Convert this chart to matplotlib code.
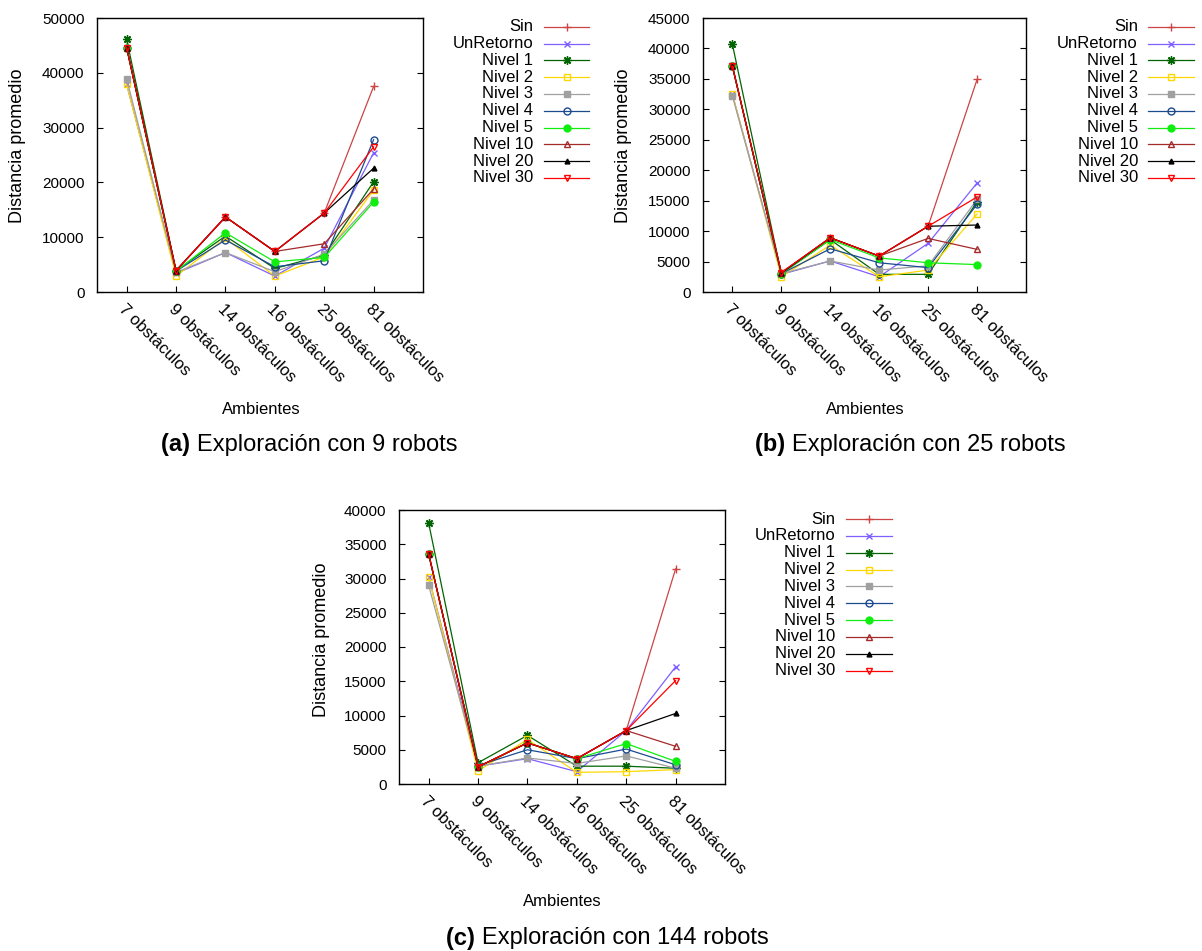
import matplotlib
matplotlib.use("Agg")
import matplotlib.pyplot as plt
from matplotlib.lines import Line2D
import numpy as np

plt.rcParams['font.family'] = ['Liberation Sans', 'DejaVu Sans']

W, H = 1202, 951

ambientes = ['7 obstáculos', '9 obstáculos', '14 obstáculos',
             '16 obstáculos', '25 obstáculos', '81 obstáculos']
series = ['Sin', 'UnRetorno', 'Nivel 1', 'Nivel 2', 'Nivel 3',
          'Nivel 4', 'Nivel 5', 'Nivel 10', 'Nivel 20', 'Nivel 30']

# 9 robots
sin_a = [44600, 3900, 13700, 7400, 14400, 37500]
unret_a = [37900, 3400, 7200, 2900, 8000, 25400]
n1_a = [46100, 3900, 10200, 4300, 6700, 20100]
n2_a = [37900, 2900, 9800, 2900, 6400, 18600]
n3_a = [38900, 3600, 7200, 3700, 6900, 16800]
n4_a = [44600, 3800, 9500, 4600, 5700, 27800]
n5_a = [44600, 3800, 10800, 5500, 6300, 16400]
n10_a = [44600, 3900, 13700, 7400, 8800, 18800]
n20_a = [44600, 3900, 13700, 7400, 14400, 22600]
n30_a = [44600, 3900, 13700, 7400, 14400, 26500]

# 25 robots
sin_b = [37100, 3200, 8900, 5900, 10800, 34900]
unret_b = [32500, 2900, 5100, 2500, 8000, 17900]
n1_b = [40700, 3000, 8600, 2900, 2900, 14800]
n2_b = [32500, 2500, 7700, 2500, 3600, 12800]
n3_b = [32200, 3000, 5100, 3600, 4300, 15200]
n4_b = [37100, 3000, 7100, 4800, 4000, 14400]
n5_b = [37100, 3000, 8600, 5600, 4800, 4500]
n10_b = [37100, 3100, 8900, 5900, 8800, 7000]
n20_b = [37100, 3100, 8900, 5900, 10800, 11000]
n30_b = [37100, 3200, 8900, 5900, 10800, 15600]

# 144 robots
sin_c = [33600, 2500, 6000, 3700, 7800, 31400]
unret_c = [30200, 2600, 3700, 1800, 7800, 17100]
n1_c = [38100, 3100, 7100, 2600, 2600, 2300]
n2_c = [30200, 1900, 6500, 1700, 1800, 2100]
n3_c = [29000, 2600, 3800, 3000, 4100, 2300]
n4_c = [33600, 2700, 5000, 3700, 5100, 2800]
n5_c = [33600, 2500, 6000, 3700, 5900, 3300]
n10_c = [33600, 2500, 6000, 3700, 7800, 5500]
n20_c = [33600, 2500, 6000, 3700, 7800, 10300]
n30_c = [33600, 2500, 6000, 3700, 7800, 15100]

data_a = [sin_a, unret_a, n1_a, n2_a, n3_a, n4_a, n5_a, n10_a, n20_a, n30_a]
data_b = [sin_b, unret_b, n1_b, n2_b, n3_b, n4_b, n5_b, n10_b, n20_b, n30_b]
data_c = [sin_c, unret_c, n1_c, n2_c, n3_c, n4_c, n5_c, n10_c, n20_c, n30_c]

colors = ['#cc4444', '#7f5fff', '#006400', '#ffd700', '#a0a0a0',
          '#1c4a8f', '#10ee10', '#a52a2a', '#000000', '#ff0000']
# (marker, filled, size)
markers = [('+', True, 6), ('x', True, 5), ((8, 2, 0), True, 6),
           ('s', False, 5), ('s', True, 5), ('o', False, 5),
           ('o', True, 5), ('^', False, 5), ('^', True, 3.5),
           ('v', False, 5)]


def fx(x):
    return x / W


def fy(y):
    return 1 - y / H


def style(i):
    m, filled, ms = markers[i]
    kw = dict(color=colors[i], lw=0.9, marker=m, markersize=ms,
              markeredgewidth=1.0, markeredgecolor=colors[i])
    kw['markerfacecolor'] = colors[i] if filled else 'none'
    return kw


def panel(fig, box, data, ymax, ystep, ylab_x, ylab_y, xlab_xy,
          cap_xy, cap_letter, cap_text, leg):
    left, top, right, bottom = box
    ax = fig.add_axes([fx(left), fy(bottom), fx(right - left),
                       (bottom - top) / H])
    x = np.arange(len(ambientes))
    for i, vals in enumerate(data):
        ax.plot(x, vals, **style(i))
    ax.set_xlim(-0.6, 6.0)
    ax.set_ylim(0, ymax)
    ax.set_yticks(np.arange(0, ymax + 1, ystep))
    ax.set_xticks(x)
    ax.set_xticklabels(ambientes, rotation=-45, ha='left', va='top',
                       rotation_mode='anchor', fontsize=12)
    ax.tick_params(axis='y', direction='in', length=4, width=0.8,
                   right=True, labelsize=11, pad=9)
    ax.tick_params(axis='x', direction='in', length=4, width=0.8,
                   top=False, pad=7)
    for s in ax.spines.values():
        s.set_linewidth(1.0)
    fig.text(fx(ylab_x), fy(ylab_y), 'Distancia promedio', rotation=90,
             ha='center', va='center', fontsize=13)
    fig.text(fx(xlab_xy[0]), fy(xlab_xy[1]), 'Ambientes',
             ha='center', va='center', fontsize=12)
    fig.text(fx(cap_xy[0]), fy(cap_xy[1]), cap_letter + ' ',
             ha='right', va='center', fontsize=17, fontweight='bold')
    fig.text(fx(cap_xy[0]), fy(cap_xy[1]), cap_text,
             ha='left', va='center', fontsize=17)
    # legend
    tx, l0, l1, y0, dy = leg
    for i, name in enumerate(series):
        yy = y0 + i * dy
        fig.text(fx(tx), fy(yy), name, ha='right', va='center', fontsize=12)
        kw = style(i)
        fig.add_artist(Line2D([fx(l0), fx(l1)], [fy(yy), fy(yy)],
                              transform=fig.transFigure, color=kw['color'],
                              lw=kw['lw']))
        fig.add_artist(Line2D([fx((l0 + l1) / 2)], [fy(yy)],
                              transform=fig.transFigure, linestyle='none',
                              marker=kw['marker'], markersize=kw['markersize'],
                              markeredgewidth=1.0,
                              markeredgecolor=kw['color'],
                              markerfacecolor=kw['markerfacecolor']))
    return ax


fig = plt.figure(figsize=(W / 100, H / 100), dpi=100)

panel(fig, (97, 18, 423, 292), data_a, 50000, 10000, 18, 146, (261, 409),
      (197, 445), '(a)', 'Exploración con 9 robots',
      (533, 544, 589, 26.7, 16.8))
panel(fig, (703, 18, 1026, 292), data_b, 45000, 5000, 623, 146, (865, 409),
      (792, 445), '(b)', 'Exploración con 25 robots',
      (1138, 1148, 1194, 26.7, 16.8))
panel(fig, (399, 510, 725, 784), data_c, 40000, 5000, 321, 640, (562, 902),
      (482, 938), '(c)', 'Exploración con 144 robots',
      (835, 846, 892, 519, 16.85))

fig.savefig('out.png', dpi=100)
